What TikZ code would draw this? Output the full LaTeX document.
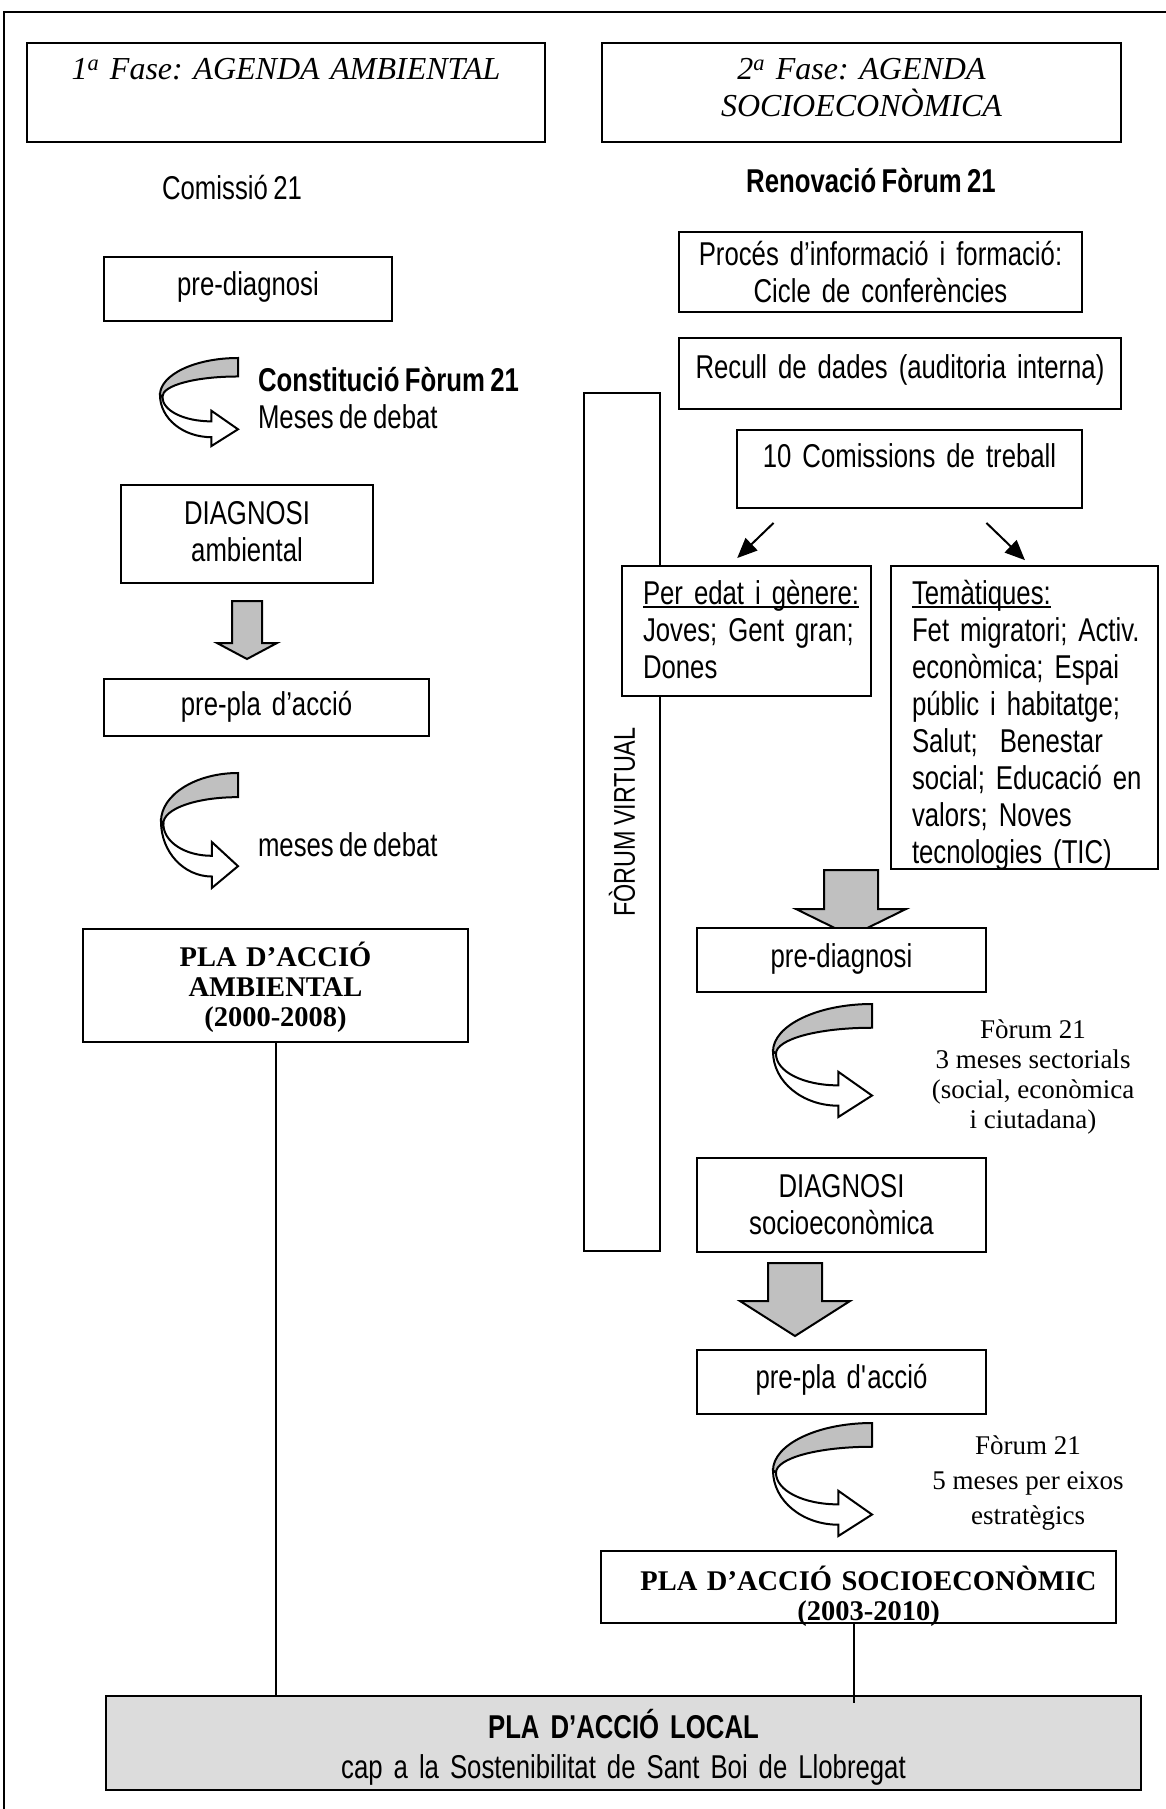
\documentclass[tikz,border=0pt]{standalone}
\usepackage{fontspec}
\setmainfont{Liberation Serif}
\newfontfamily\narrowsans[FakeStretch=0.78, WordSpace=0.75]{Liberation Sans}
\usetikzlibrary{positioning, arrows.meta, calc}

\definecolor{arrowgray}{RGB}{192,192,192}
\definecolor{localgray}{RGB}{220,220,220}
\newcommand{\sanstext}{\narrowsans\fontsize{33}{37}\selectfont}
\newcommand{\undertext}[1]{\leavevmode\setbox0=\hbox{#1}\rlap{\rule[-4pt]{\wd0}{2pt}}\box0}

% turning arrow in a w x h box, top left corner at (x,y)
\newcommand{\turnarrow}[4]{%
  \begin{scope}[shift={(#1,#2)}, xscale=#3, yscale=#4]
    \filldraw[fill=arrowgray] (1,0) .. controls (0.45,0) and (0,0.19) .. (0,0.42)
      -- (0.03,0.44) .. controls (0.03,0.31) and (0.46,0.21) .. (1,0.21) -- cycle;
    \filldraw[fill=white] (0.03,0.44) .. controls (0.03,0.6) and (0.31,0.72) .. (0.66,0.72)
      -- (0.66,0.6) -- (1,0.81) -- (0.66,1) -- (0.66,0.9)
      .. controls (0.3,0.9) and (0,0.69) .. (0,0.42) -- cycle;
  \end{scope}}
% block arrow: centre x, top, head start, tip, half shaft, half head
\newcommand{\blockarrow}[6]{%
  \filldraw[fill=arrowgray] (#1-#5,#2) -- (#1+#5,#2) -- (#1+#5,#3) -- (#1+#6,#3)
    -- (#1,#4) -- (#1-#6,#3) -- (#1-#5,#3) -- cycle;}

\begin{document}
\frenchspacing
\begin{tikzpicture}[x=1pt, y=-1pt, line width=2pt,
    pbox/.style={draw, fill=white, anchor=north, inner sep=0pt, align=center, font=\sanstext},
    lbox/.style={pbox, align=left},
    plabox/.style={pbox, font=\bfseries\fontsize{28.5}{30}\selectfont},
    fasebox/.style={pbox, font=\itshape\fontsize{32}{37}\selectfont, text height=37pt, text depth=62pt},
    sertext/.style={font=\fontsize{27}{30}\selectfont, align=center, inner sep=0pt},
    sidetext/.style={font=\sanstext, align=left, anchor=west, inner sep=0pt},
    tip/.style={-{Triangle[length=20pt, width=17pt]}}]
    \useasboundingbox (0,0) rectangle (1166,1809);
    \draw (1166,12) -- (4,12) -- (4,1809);

    % phases
    \node[fasebox, text width=518pt] (fase1) at (286,42) {1\textsuperscript{a} Fase: AGENDA AMBIENTAL};
    \node[fasebox, text width=519pt] (fase2) at (861.5,42) {2\textsuperscript{a} Fase: AGENDA\\SOCIOECONÒMICA};
    \node[font=\sanstext] (comissio) at (232,188) {Comissió 21};
    \node[font=\sanstext\bfseries] (renovacio) at (871,181) {Renovació Fòrum 21};

    % first phase
    \node[pbox, text width=288pt, text height=38pt, text depth=26pt] (prediagL) at (248,256) {pre-diagnosi};
    \turnarrow{160}{358}{78}{88}
    \node[sidetext] (constitucio) at (257,398) {\textbf{Constitució Fòrum 21}\\Meses de debat};
    \node[pbox, text width=252pt, text height=39pt, text depth=59pt] (diagL) at (247,484) {DIAGNOSI\\ambiental};
    \blockarrow{247}{601}{643}{659}{15}{30}
    \node[pbox, text width=325pt, text height=36pt, text depth=21pt] (preplaL) at (266.5,678) {pre-pla d’acció};
    \turnarrow{161}{773}{77}{115}
    \node[sidetext] (debat) at (257,845) {meses de debat};
    \node[plabox, text width=385pt, text height=37pt, text depth=76pt] (plaAmb) at (275.5,928) {PLA D’ACCIÓ\\AMBIENTAL\\(2000-2008)};

    % second phase
    \node[pbox, text width=403pt, text height=33pt, text depth=47pt] (proces) at (880.5,231) {Procés d’informació i formació:\\Cicle de conferències};
    \node[pbox, text width=442pt, text height=40pt, text depth=31pt] (recull) at (900,337) {Recull de dades (auditoria interna)};
    \node[draw, rotate=90, minimum width=858pt, minimum height=76pt, inner sep=0pt,
          font=\narrowsans\fontsize{30}{34}\selectfont] (virtual) at (622,822) {FÒRUM VIRTUAL};
    \node[pbox, text width=345pt, text height=37pt, text depth=41pt] (comis) at (909.5,429) {10 Comissions de treball};
    \node[lbox, inner xsep=21pt, text width=207pt, text height=38pt, text depth=92pt] (edat) at (746.5,565)
        {\undertext{Per edat i gènere:}\\\mbox{Joves; Gent gran;}\\Dones};
    \node[lbox, inner xsep=21pt, text width=225pt, text height=38pt, text depth=265pt] (tema) at (1024.5,565)
        {\undertext{Temàtiques:}\\\mbox{Fet migratori; Activ.}\\\mbox{econòmica; Espai}\\\mbox{públic i habitatge;}\\\mbox{Salut; \ Benestar}\\\mbox{social; Educació en}\\\mbox{valors; Noves}\\\mbox{tecnologies (TIC)}};
    \draw[tip, shorten <=20pt, shorten >=10pt] ($(comis.south west)+(52,0)$) -- ($(edat.north west)+(109,0)$);
    \draw[tip, shorten <=20pt, shorten >=7pt] ($(comis.south west)+(236,0)$) -- ($(tema.north west)+(140,0)$);

    \blockarrow{851}{870}{909}{936}{27}{55}
    \node[pbox, text width=289pt, text height=39pt, text depth=25pt] (prediagR) at (841.5,927) {pre-diagnosi};
    \turnarrow{773}{1004}{99}{113}
    \node[sertext] (forum3) at (1033,1077) {Fòrum 21\\3 meses sectorials\\(social, econòmica\\i ciutadana)};
    \node[pbox, text width=289pt, text height=39pt, text depth=55pt] (diagR) at (841.5,1157) {DIAGNOSI\\socioeconòmica};
    \blockarrow{795}{1263}{1301}{1336}{27}{55}
    \node[pbox, text width=289pt, text height=38pt, text depth=26pt] (preplaR) at (841.5,1349) {pre-pla d\textquotesingle acció};
    \turnarrow{773}{1423}{99}{113}
    \node[sertext, font=\fontsize{27}{35}\selectfont] (forum5) at (1028,1483) {Fòrum 21\\5 meses per eixos\\estratègics};
    \node[plabox, text width=515pt, text height=39pt, text depth=33pt] (plaSocio) at (858.5,1550)
        {\hspace*{20pt}PLA D’ACCIÓ SOCIOECONÒMIC\\\hspace*{20pt}(2003-2010)};

    % local plan
    \node[pbox, fill=localgray, text width=1035pt, text height=42pt, text depth=52pt] (plaLocal) at (623.5,1695)
        {\textbf{PLA D’ACCIÓ LOCAL}\\[3pt]cap a la Sostenibilitat de Sant Boi de Llobregat};
    \draw (plaAmb.south) -- (plaAmb.south |- plaLocal.north);
    \draw ($(plaSocio.south)+(-5,0)$) -- ($(plaSocio.south |- plaLocal.north)+(-5,8)$);
\end{tikzpicture}
\end{document}
